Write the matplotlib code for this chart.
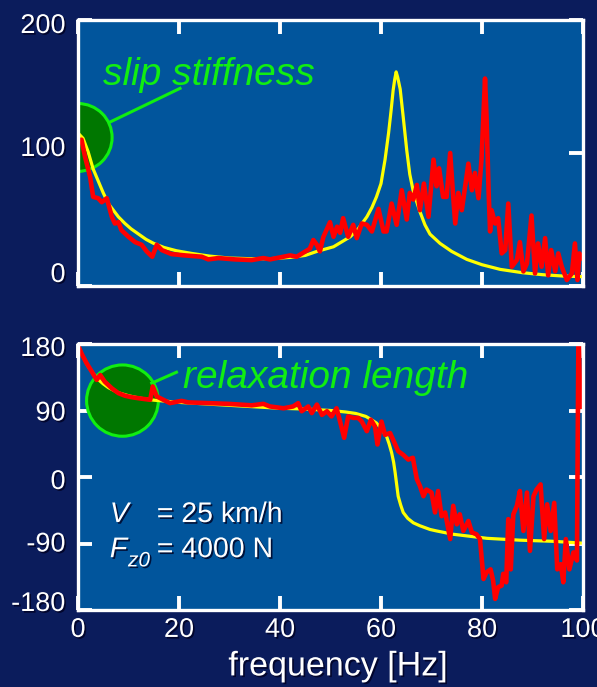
import matplotlib
matplotlib.use('Agg')
import matplotlib.pyplot as plt
import matplotlib.patheffects as pe
from matplotlib.patches import Ellipse
from matplotlib.transforms import ScaledTranslation

# ---------------- data ----------------
# top panel: slip stiffness magnitude
top_red_f = [0, 0.7, 1.4, 2.4, 3.0, 4.0, 4.7, 5.7, 6.7, 7.3, 8.0, 8.6, 10.0, 11.3, 12.6,
             13.6, 14.7, 15.6, 16.6, 18.5, 21.2, 24.5, 25.8, 27.8, 31.1, 34.4, 36.7, 38,
             40, 42, 43.3, 44.6, 45.9, 46.6, 47.3, 47.9, 48.6, 49.9, 50.6, 51.3, 51.9,
             52.5, 53.5, 54.5, 55.2, 56.2, 57.2, 58.2, 59.5, 60.5, 61.1, 62.1, 63.1, 64.1,
             65.1, 65.7, 66.4, 67.1, 67.7, 68.5, 69.4, 70.4, 71.0, 71.5, 72.3, 73.0, 73.7,
             74.3, 74.7, 75.3, 76.0, 77.3, 78.0, 78.6, 79.3, 79.9, 80.6, 80.9, 81.3, 81.6,
             81.9, 82.6, 83.2, 83.9, 84.6, 85.2, 85.9, 86.9, 87.5, 88.2, 88.9, 89.8, 90.5,
             91.1, 91.8, 92.5, 93.1, 93.7, 94.5, 95.1, 95.8, 96.8, 97.8, 98.4, 98.9, 99.3,
             99.7]
top_red_v = [108, 110, 97, 82, 67, 66, 63, 66, 52, 47, 48, 42, 37, 33, 31,
             26, 22, 31, 27, 24, 23, 22, 20, 21, 20, 19.5, 21, 20,
             21.5, 23, 22, 25, 28, 34.6, 31, 26, 37, 48, 37, 44.6, 40,
             51, 37, 46, 36, 47, 46, 41, 58, 41, 41, 62, 46, 72,
             50, 70, 65, 76, 57, 77, 52, 95, 75, 88.5, 67, 67, 100,
             67, 47, 70, 57, 92, 72, 85, 66, 95, 156, 127, 72, 41,
             57, 47, 51, 24.5, 27, 62, 14.5, 19.5, 33, 11, 17, 53, 9.5,
             32, 14.5, 36, 8, 27, 11, 24.5, 14.5, 4.5, 9.5, 32, 4.5, 24.5,
             21]
top_yel_f = [0, 1, 2, 3, 4, 5, 6, 7, 8, 9.3, 10.5, 12, 13.5, 15, 17, 19.5, 22.5, 26, 30,
             34.4, 38, 42, 45, 47.3, 50.6, 53.9, 55.5, 57.2, 58.2, 59.1, 60.0, 60.8, 61.5,
             62.0, 62.4, 62.7, 63.0, 63.3, 63.8, 64.4, 65.1, 65.7, 66.4, 67.1, 67.7, 68.7,
             69.7, 71.7, 74, 77, 80, 83.6, 88, 92, 96, 100]
top_yel_v = [115, 111, 101, 88, 79, 70, 62, 57, 52, 47, 43, 39, 35, 32, 29, 26.5, 24.5, 22.5, 21,
             20.5, 20.5, 21.5, 23, 26, 29.5, 37, 43, 52, 59, 67, 77, 95, 115,
             132, 147, 155, 161, 157, 148, 127, 102, 84, 71, 63, 56, 46,
             39, 32, 26, 20, 16, 12.5, 10, 8.5, 7.5, 7]

# bottom panel: phase
bot_red_f = [0, 0.7, 1.7, 2.7, 3.7, 4.4, 5.3, 6.7, 8, 9.3, 10.6, 12.6, 14.3, 14.8, 15.6,
             16.9, 18.2, 20.5, 21.8, 25.8, 29.8, 34.4, 36.7, 38, 40.7, 42.6, 43.6, 44.3,
             45.6, 46.3, 47.3, 48.3, 49.3, 50.2, 51.2, 51.9, 52.7, 53.5, 54.5, 55.5, 56.2,
             57.2, 58, 58.8, 59.3, 60.1, 60.8, 61.8, 62.4, 63.4, 64.4, 65.4, 66.3, 67.1,
             67.7, 68.4, 69.0, 70.0, 70.7, 71.3, 72.0, 72.7, 73.7, 74.3, 75.0, 75.6, 76.3,
             77.3, 78.0, 78.9, 79.6, 80.3, 80.9, 81.7, 82.2, 82.6, 83.2, 83.9, 84.2, 84.8,
             85.2, 85.7, 86.2, 86.9, 87.5, 88.2, 88.9, 89.5, 90.2, 90.8, 91.6, 92.3, 92.9,
             93.6, 94.3, 94.9, 95.6, 96.1, 96.6, 97.3, 98.1, 98.8, 99.1, 99.5]
bot_red_v = [178.6, 167, 154, 143, 131.5, 138, 129, 120, 113.5, 110, 108, 106, 104.5, 122.5, 109,
             104.5, 100, 103, 101, 100, 99, 97, 99, 95.5, 93, 95.5, 100, 89,
             95.5, 86.5, 98, 84, 89, 82, 93, 75, 53, 82, 80, 80, 75,
             62, 77.5, 68.5, 44, 75, 57, 59.5, 50.5, 35, 30, 23.5, 26, -3,
             -12, -26, -17, -21, -48, -19, -53, -48, -84, -39, -64, -50.5, -73,
             -59.5, -75, -77.5, -84, -138, -129, -125, -140, -165, -149, -147, -131, -142.5,
             -57, -125, -50.5, -39, -19, -73, -21, -100, -26, -17, -10, -84, -37,
             -73, -35, -125, -118, -142.5, -84, -125, -102, -113, 200, 95]
bot_yel_f = [0, 1, 2, 3, 4, 5, 6, 8, 10, 12, 15, 20, 25, 30, 35, 40, 45, 50, 53, 55, 57, 58,
             59.1, 60, 61.1, 61.6, 62.1, 62.5, 62.8, 63.1, 63.4, 63.9, 64.4, 65.3, 66.4, 67.7,
             69.7, 71, 74.3, 81, 87.5, 94, 100]
bot_yel_v = [178, 163, 150, 140, 132, 126, 121, 114, 110, 107, 104, 101, 99, 97, 95, 93, 92, 90,
             88, 86, 82, 78, 73, 66, 55, 45, 33, 20, 6, -10, -26, -38, -48, -56, -62, -66,
             -71, -73, -77.5, -83, -85.5, -87, -89.6]

x_ticks = [0, 20, 40, 60, 80, 100]
top_yticks = [0, 100, 200]
bot_yticks = [-180, -90, 0, 90, 180]

# ---------------- style ----------------
plt.rcParams['font.family'] = ['Liberation Sans', 'DejaVu Sans']
plt.rcParams['axes.unicode_minus'] = False
BG = '#0B1C5C'
AXC = '#01559C'
GREEN = '#11EE11'
DKGREEN = '#007700'
shadow = [pe.withSimplePatchShadow(offset=(1.2, -1.2), shadow_rgbFace='#000020', alpha=0.8)]

fig = plt.figure(figsize=(5.97, 6.87), dpi=100, facecolor=BG)
W, H = 597, 687
ax1 = fig.add_axes([78 / W, 1 - 286 / H, 505 / W, 266 / H])
ax2 = fig.add_axes([78 / W, 1 - 610 / H, 505 / W, 266 / H])

for ax in (ax1, ax2):
    ax.set_facecolor(AXC)
    for s in ax.spines.values():
        s.set_color('white')
        s.set_linewidth(2.4)
        s.set_zorder(6)
    ax.set_xlim(0, 100)
    ax.set_xticks(x_ticks)
    ax.tick_params(direction='in', length=10, width=2.8, color='white', top=True,
                   right=True, labelcolor='white', labelsize=19.5, pad=9)

ax1.set_ylim(0, 200)
ax1.set_yticks(top_yticks)
ax1.tick_params(labelbottom=False)
ax2.set_ylim(-180, 180)
ax2.set_yticks(bot_yticks)
ax2.tick_params(axis='x', pad=5)

# curves
ax1.plot(top_yel_f, top_yel_v, color='#FFFF00', lw=2.3, zorder=3)
ax1.plot(top_red_f, top_red_v, color='#FF0000', lw=3.3, zorder=4, solid_joinstyle='round')
ax2.plot(bot_yel_f, bot_yel_v, color='#FFFF00', lw=2.3, zorder=3)
ax2.plot(bot_red_f, bot_red_v, color='#FF0000', lw=3.3, zorder=4, solid_joinstyle='round')

# annotations
ax1.add_patch(Ellipse((0, 111.7), 13.5, 51, facecolor=DKGREEN, edgecolor=GREEN, lw=2.2, zorder=2))
ax1.plot([6.2, 20.2], [123, 148.6], color=GREEN, lw=2.2, zorder=2)
ax1.text(5.0, 151, 'slip stiffness', color=GREEN, fontsize=28, style='italic',
         va='baseline', ha='left', zorder=5)

ax2.add_patch(Ellipse((8.8, 103.4), 14.2, 96.5, facecolor=DKGREEN, edgecolor=GREEN, lw=2.2, zorder=2))
ax2.plot([14.6, 19.5], [127, 141.8], color=GREEN, lw=2.2, zorder=2)
ax2.text(20.8, 120.7, 'relaxation length', color=GREEN, fontsize=28, style='italic',
         va='baseline', ha='left', zorder=5)

# condition text
tx = dict(color='white', fontsize=20.5, va='baseline', zorder=5, path_effects=shadow)
ax2.text(6.3, -61, 'V', style='italic', **tx)
ax2.text(15.6, -61, '= 25 km/h', **tx)
ax2.text(6.3, -108.5, 'F', style='italic', **tx)
ax2.text(9.9, -121, 'z0', style='italic', color='white', fontsize=15, va='baseline',
         zorder=5, path_effects=shadow)
ax2.text(15.6, -108.5, '= 4000 N', **tx)

ax2.set_xlabel('frequency [Hz]', color='white', fontsize=24.5, va='center')
ax2.xaxis.set_label_coords(0.515, -0.214)
ax2.xaxis.label.set_path_effects(shadow)

# tick label shadows and small vertical offsets (pixels)
top_off = {0: 14, 100: 7, 200: -3}
bot_off = {-180: 9, -90: 2, 0: -2, 90: 0, 180: -2}
for ax, offs in ((ax1, top_off), (ax2, bot_off)):
    for t, lab in zip(ax.get_yticks(), ax.get_yticklabels()):
        lab.set_path_effects(shadow)
        dy = offs.get(int(round(t)), 0)
        lab.set_transform(lab.get_transform() + ScaledTranslation(0, dy / 100, fig.dpi_scale_trans))
    for lab in ax.get_xticklabels():
        lab.set_path_effects(shadow)

fig.savefig('out.png', dpi=100, facecolor=BG)
